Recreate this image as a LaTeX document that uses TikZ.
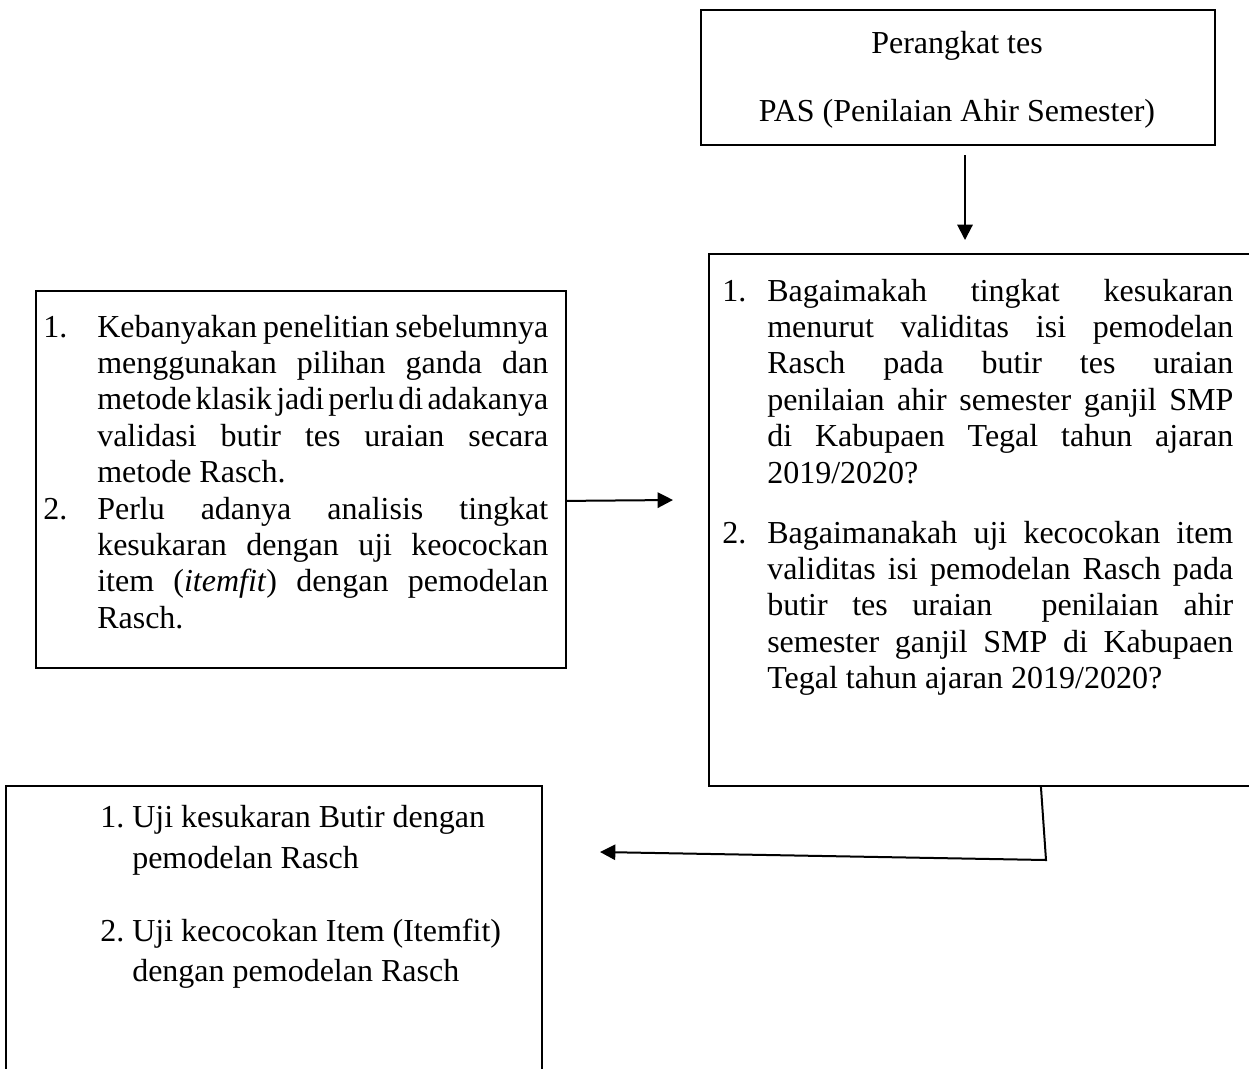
\documentclass[tikz,border=0pt]{standalone}
\usepackage{fontspec}
\setmainfont{Liberation Serif}
\usetikzlibrary{arrows.meta}
\newcommand{\jline}[2]{\hbox to #1{\spaceskip=0.25em plus 2em minus 0.15em\relax #2}}
\begin{document}
\begin{tikzpicture}[x=0.75pt,y=-0.75pt]
\tikzset{
  box/.style={draw, line width=1.4pt, inner sep=0pt, anchor=north west},
  txt/.style={inner sep=0pt, anchor=base west, font=\fontsize{24}{27}\selectfont},
  ctxt/.style={inner sep=0pt, anchor=base, font=\fontsize{24}{27}\selectfont},
  arr/.style={line width=1.5pt, -{Triangle[length=11.5pt,width=11.5pt]}}
}
\useasboundingbox (0,0) rectangle (1249,1068);
\clip (0,0) rectangle (1249,1068);
% boxes
\node[box, minimum width=385.5pt, minimum height=101.25pt] (top) at (700,9) {};
\node[box, minimum width=414pt, minimum height=399pt] (right) at (708,253) {};
\node[box, minimum width=397.5pt, minimum height=282.75pt] (left) at (35,290) {};
\node[box, minimum width=402pt, minimum height=225pt] (bottom) at (5,785) {};
% top box text
\node[ctxt] (t1) at (957,53) {Perangkat tes};
\node[ctxt] (t2) at (957,121) {PAS (Penilaian Ahir Semester)};
% left box text
\def\lw{338.25pt}
\node[txt] (ln1) at (43,337) {1.};
\node[txt] (l1) at (97,337) {\jline{\lw}{Kebanyakan penelitian sebelumnya}};
\node[txt] (l2) at (97,373.4) {\jline{\lw}{menggunakan pilihan ganda dan}};
\node[txt] (l3) at (97,409.8) {\jline{\lw}{metode klasik jadi perlu di adakanya}};
\node[txt] (l4) at (97,446.2) {\jline{\lw}{validasi butir tes uraian secara}};
\node[txt] (l5) at (97,482.6) {metode Rasch.};
\node[txt] (ln2) at (43,519) {2.};
\node[txt] (l6) at (97,519) {\jline{\lw}{Perlu adanya analisis tingkat}};
\node[txt] (l7) at (97,555.4) {\jline{\lw}{kesukaran dengan uji keocockan}};
\node[txt] (l8) at (97,591.8) {\jline{\lw}{item (\textit{itemfit}) dengan pemodelan}};
\node[txt] (l9) at (97,628.2) {Rasch.};
% right box text
\def\rw{349.5pt}
\node[txt] (rn1) at (722,301) {1.};
\node[txt] (r1) at (767,301) {\jline{\rw}{Bagaimakah tingkat kesukaran}};
\node[txt] (r2) at (767,337.4) {\jline{\rw}{menurut validitas isi pemodelan}};
\node[txt] (r3) at (767,373.8) {\jline{\rw}{Rasch pada butir tes uraian}};
\node[txt] (r4) at (767,410.2) {\jline{\rw}{penilaian ahir semester ganjil SMP}};
\node[txt] (r5) at (767,446.6) {\jline{\rw}{di Kabupaen Tegal tahun ajaran}};
\node[txt] (r6) at (767,483) {2019/2020?};
\node[txt] (rn2) at (722,543) {2.};
\node[txt] (r7) at (767,543) {\jline{\rw}{Bagaimanakah uji kecocokan item}};
\node[txt] (r8) at (767,579.4) {\jline{\rw}{validitas isi pemodelan Rasch pada}};
\node[txt] (r9) at (767,615.8) {\jline{\rw}{butir tes uraian \ penilaian ahir}};
\node[txt] (r10) at (767,652.2) {\jline{\rw}{semester ganjil SMP di Kabupaen}};
\node[txt] (r11) at (767,688.6) {Tegal tahun ajaran 2019/2020?};
% bottom box text
\node[txt] (bn1) at (100,827) {1.};
\node[txt] (b1) at (132,827) {Uji kesukaran Butir dengan};
\node[txt] (b2) at (132,868) {pemodelan Rasch};
\node[txt] (bn2) at (100,941) {2.};
\node[txt] (b3) at (132,941) {Uji kecocokan Item (Itemfit)};
\node[txt] (b4) at (132,981) {dengan pemodelan Rasch};
% connectors
\coordinate (d1) at (965,155);
\coordinate (d2) at (965,240);
\draw[arr] (d1) -- (d2);
\coordinate (h2) at (673,500);
\draw[arr] ([yshift=-16.1pt]left.east) -- (h2);
\coordinate (k2) at (1046,860);
\coordinate (k3) at (600,852);
\draw[arr] ([xshift=42pt]right.south) -- (k2) -- (k3);
\end{tikzpicture}
\end{document}
